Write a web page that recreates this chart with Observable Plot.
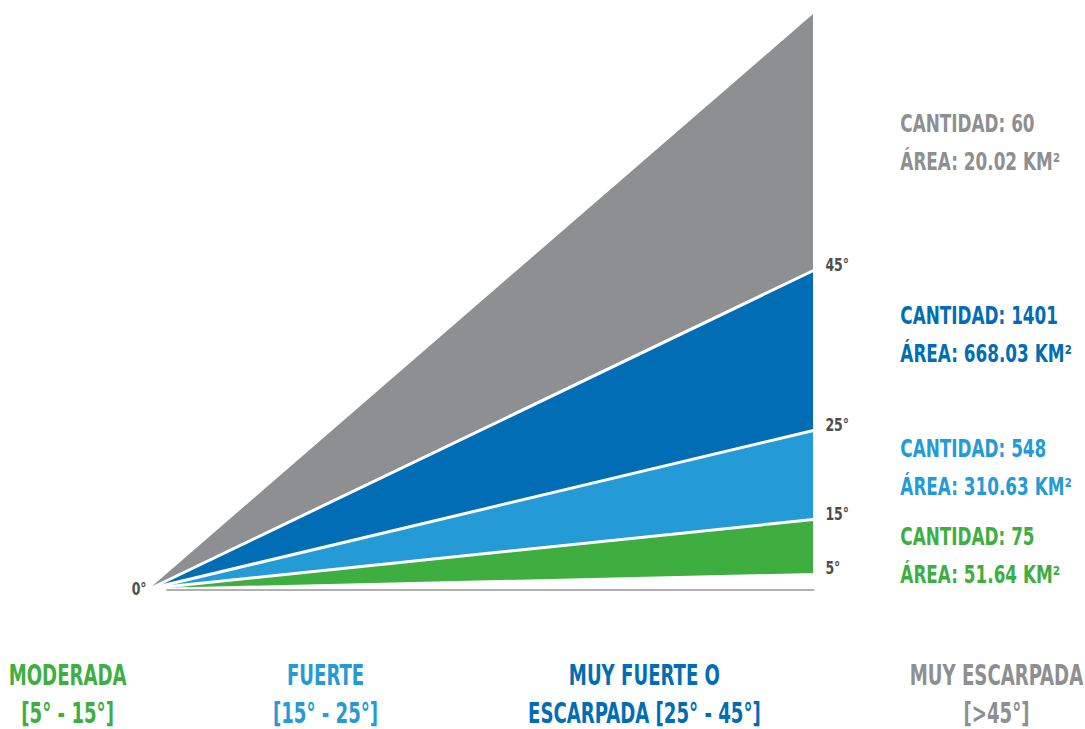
<!DOCTYPE html>
<html>
<head>
<meta charset="utf-8">
<script src="https://cdn.jsdelivr.net/npm/d3@7"></script>
<script src="https://cdn.jsdelivr.net/npm/@observablehq/plot@0.6"></script>
<style>
  html, body { margin: 0; padding: 0; background: #ffffff; }
  #chart svg { display: block; }
</style>
</head>
<body>
<div id="chart"></div>
<script>
// ---- data ----
const categories = ["MODERADA", "FUERTE", "MUY FUERTE O\nESCARPADA", "MUY ESCARPADA"];
const ranges = ["[5° - 15°]", "[15° - 25°]", "[25° - 45°]", "[>45°]"];
const cantidad = [75, 548, 1401, 60];
const areaKm2 = ["51.64", "310.63", "668.03", "20.02"];
const colors = ["#3dae3f", "#249ad6", "#006db5", "#8e8f91"];
// wedge edges (relative height at the right end)
const wedgeLow = [15, 69, 158, 318];
const wedgeHigh = [69, 158, 318, 574];
const degreeLabels = ["0°", "5°", "15°", "25°", "45°"];
const degreeValues = [0, 15, 69, 158, 318];
const separators = [69, 158, 318];

// ---- layout ----
const statY = [37, 125, 258, 450];
const bottomX = [-0.125, 0.264, 0.745, 1.276];

const wedges = categories.flatMap((c, i) => [
  {cat: c, x: 0, y1: 0, y2: 0, color: colors[i]},
  {cat: c, x: 1, y1: wedgeLow[i], y2: wedgeHigh[i], color: colors[i]}
]);
const sepLines = separators.flatMap((v, i) => [
  {id: i, x: 0, y: 0},
  {id: i, x: 1, y: v}
]);
const stats = categories.map((c, i) => ({
  text: `CANTIDAD: ${cantidad[i]}\nÁREA: ${areaKm2[i]} KM²`,
  y: statY[i], color: colors[i]
}));
const bottoms = categories.map((c, i) => ({
  text: (c.includes("\n") ? c + " " + ranges[i] : c + "\n" + ranges[i]),
  x: bottomX[i], color: colors[i]
}));
const degs = degreeLabels.map((t, i) => ({text: t, v: degreeValues[i], i}));

const font = "'Liberation Sans Narrow', 'DejaVu Sans Condensed', 'Roboto', sans-serif";

const chart = Plot.plot({
  width: 1085,
  height: 729,
  marginLeft: 150,
  marginRight: 272,
  marginTop: 14,
  marginBottom: 141,
  x: {domain: [0, 1], axis: null},
  y: {domain: [0, 574], axis: null},
  color: {type: "identity"},
  style: {fontFamily: font, background: "#ffffff"},
  marks: [
    Plot.areaY(wedges, {x: "x", y1: "y1", y2: "y2", z: "cat", fill: "color"}),
    Plot.line(sepLines, {x: "x", y: "y", z: "id", stroke: "#ffffff", strokeWidth: 3}),
    Plot.line([{x: 0.025, y: -1.5}, {x: 1, y: -1.5}], {x: "x", y: "y", stroke: "#b0b0b0", strokeWidth: 2}),
    // degree labels
    Plot.text(degs.filter(d => d.i > 0), {
      x: () => 1.018, y: "v", text: "text", textAnchor: "start", dy: -5,
      fill: "#4d4d4d", fontSize: 18, fontWeight: "bold"
    }),
    Plot.text(degs.filter(d => d.i === 0), {
      x: () => -0.006, y: "v", text: "text", textAnchor: "end", dy: 1,
      fill: "#4d4d4d", fontSize: 18, fontWeight: "bold"
    }),
    // stats on the right
    Plot.text(stats, {
      x: () => 1.131, y: "y", text: "text", textAnchor: "start", lineAnchor: "middle",
      fill: "color", fontSize: 24, fontWeight: "bold", lineHeight: 1.6
    }),
    // category labels at the bottom
    Plot.text(bottoms, {
      x: "x", y: () => -103, text: "text", textAnchor: "middle", lineAnchor: "middle",
      fill: "color", fontSize: 28, fontWeight: "bold", lineHeight: 1.36
    })
  ]
});

// condense the glyphs horizontally (no narrow font is installed)
const squeeze = [0.77, 0.77, 0.78, 0.72];
chart.querySelectorAll('g[aria-label="text"]').forEach((g, gi) => {
  const s = squeeze[gi] ?? 1;
  g.querySelectorAll("text").forEach(t => {
    const tr = t.getAttribute("transform");
    if (tr) {
      t.setAttribute("transform", tr + ` scale(${s},1)`);
    } else {
      const x = t.getAttribute("x") || 0, y = t.getAttribute("y") || 0;
      t.removeAttribute("x"); t.removeAttribute("y");
      t.setAttribute("transform", `translate(${x},${y}) scale(${s},1)`);
    }
  });
});
document.getElementById("chart").appendChild(chart);
</script>
</body>
</html>
